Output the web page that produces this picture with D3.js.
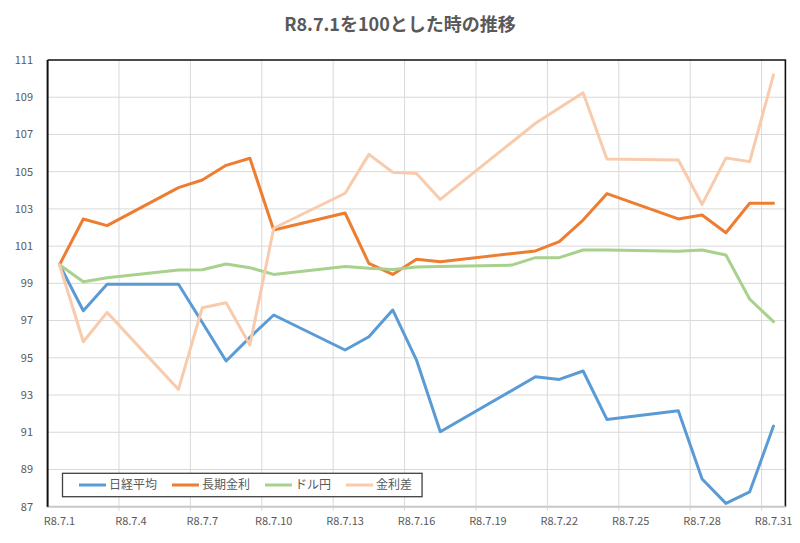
<!DOCTYPE html>
<html>
<head>
<meta charset="utf-8">
<script src="https://cdn.jsdelivr.net/npm/d3@7"></script>
<style>
  body { margin: 0; background: #fff; }
  text { font-family: "Noto Sans CJK JP", "Noto Sans", sans-serif; fill: #595959; }
</style>
</head>
<body>
<div id="holder"></div>
<script>
// trading days of R8.7 (day of month)
const days = [1, 2, 3, 6, 7, 8, 9, 10, 13, 14, 15, 16, 17, 20, 21, 22, 23, 24, 27, 28, 29, 30, 31];
const seriesNames = ["日経平均", "長期金利", "ドル円", "金利差"];
const nikkei = [100, 97.53, 98.95, 98.95, 96.9, 94.83, 96.1, 97.3, 95.42, 96.13, 97.57, 94.88, 91.03, null, 93.98, 93.84, 94.29, 91.69, 92.16, 88.49, 87.18, 87.8, 91.33];
const longRate = [100, 102.46, 102.1, 104.14, 104.55, 105.34, 105.72, 101.87, 102.78, 100.07, 99.48, 100.29, 100.16, null, 100.74, 101.24, 102.4, 103.82, 102.46, 102.67, 101.72, 103.3, 103.3];
const usdJpy = [100, 99.09, 99.3, 99.72, 99.73, 100.04, 99.84, 99.48, 99.9, 99.81, 99.75, 99.88, 99.9, 99.98, 100.38, 100.38, 100.79, 100.79, 100.73, 100.79, 100.52, 98.15, 96.94];
const rateGap = [100, 95.86, 97.44, 93.3, 97.69, 97.96, 95.69, 101.96, 103.84, 105.93, 104.97, 104.9, 103.51, null, 107.6, 108.42, 109.24, 105.68, 105.63, 103.24, 105.73, 105.54, 110.2];
const xTickDays = [1, 4, 7, 10, 13, 16, 19, 22, 25, 28, 31];
const yTicks = [87, 89, 91, 93, 95, 97, 99, 101, 103, 105, 107, 109, 111];
const titleText = "R8.7.1を100とした時の推移";

const width = 800;
const height = 543;
const colors = ["#5b9bd5", "#ed7d31", "#a9d18e", "#f8cbad"];
const allSeries = [nikkei, longRate, usdJpy, rateGap];

const svg = d3.select("#holder")
    .append("svg")
    .attr("width", width)
    .attr("height", height);

const x = d3.scaleLinear().domain([1, 32]).range([47.6, 785.4]);
const y = d3.scaleLinear().domain([87, 111]).range([506.7, 60]);

svg.append("text")
    .attr("x", 400)
    .attr("y", 31)
    .attr("text-anchor", "middle")
    .attr("font-size", 18)
    .attr("font-weight", "bold")
    .text(titleText);

// gridlines
svg.append("g")
    .selectAll("line")
    .data(yTicks.slice(1, -1))
    .enter()
    .append("line")
    .attr("x1", x(1))
    .attr("x2", x(32))
    .attr("y1", (d) => y(d))
    .attr("y2", (d) => y(d))
    .attr("stroke", "#d9d9d9")
    .attr("stroke-width", 1);

svg.append("g")
    .selectAll("line")
    .data(xTickDays.slice(1))
    .enter()
    .append("line")
    .attr("x1", (d) => x(d))
    .attr("x2", (d) => x(d))
    .attr("y1", y(111))
    .attr("y2", y(87) + 4)
    .attr("stroke", "#d9d9d9")
    .attr("stroke-width", 1);

// plot border (top, right) and axes
svg.append("path")
    .attr("d", `M${x(1)},${y(111)}H${x(32)}V${y(87)}`)
    .attr("fill", "none")
    .attr("stroke", "#111")
    .attr("stroke-width", 1.6);

svg.append("line")
    .attr("x1", x(1) - 1).attr("x2", x(32))
    .attr("y1", y(87)).attr("y2", y(87))
    .attr("stroke", "#c8c8c8")
    .attr("stroke-width", 2);

svg.append("line")
    .attr("x1", x(1)).attr("x2", x(1))
    .attr("y1", y(111)).attr("y2", y(87))
    .attr("stroke", "#111")
    .attr("stroke-width", 2);

// axis labels
svg.append("g")
    .selectAll("text")
    .data(yTicks)
    .enter()
    .append("text")
    .attr("x", 33)
    .attr("y", (d) => y(d))
    .attr("dy", "0.35em")
    .attr("text-anchor", "end")
    .attr("font-size", 11)
    .text((d) => d);

svg.append("g")
    .selectAll("text")
    .data(xTickDays)
    .enter()
    .append("text")
    .attr("x", (d) => x(d + 0.5))
    .attr("y", 525)
    .attr("text-anchor", "middle")
    .attr("font-size", 11)
    .text((d) => `R8.7.${d}`);

// series lines, points sit in the middle of each day
const line = d3.line()
    .defined((d) => d.v !== null)
    .x((d) => x(d.day + 0.5))
    .y((d) => y(d.v));

allSeries.forEach((values, i) => {
    const pts = days.map((day, j) => ({ day: day, v: values[j] })).filter((p) => p.v !== null);
    svg.append("path")
        .datum(pts)
        .attr("d", line)
        .attr("fill", "none")
        .attr("stroke", colors[i])
        .attr("stroke-width", 3)
        .attr("stroke-linejoin", "round")
        .attr("stroke-linecap", "round");
});

// legend
const legend = svg.append("g");
const legendBox = legend.append("rect")
    .attr("x", 62.5)
    .attr("y", 473.3)
    .attr("height", 23.4)
    .attr("fill", "#fff")
    .attr("stroke", "#404040")
    .attr("stroke-width", 1.3);

let lx = 79;
let lastEnd = lx;
seriesNames.forEach((name, i) => {
    legend.append("line")
        .attr("x1", lx).attr("x2", lx + 27)
        .attr("y1", 485).attr("y2", 485)
        .attr("stroke", colors[i])
        .attr("stroke-width", 3);
    const t = legend.append("text")
        .attr("x", lx + 30)
        .attr("y", 485)
        .attr("dy", "0.35em")
        .attr("font-size", 12)
        .text(name);
    lastEnd = lx + 30 + t.node().getComputedTextLength();
    lx = lastEnd + 15;
});
legendBox.attr("width", lastEnd + 10 - 62.5);
</script>
</body>
</html>
